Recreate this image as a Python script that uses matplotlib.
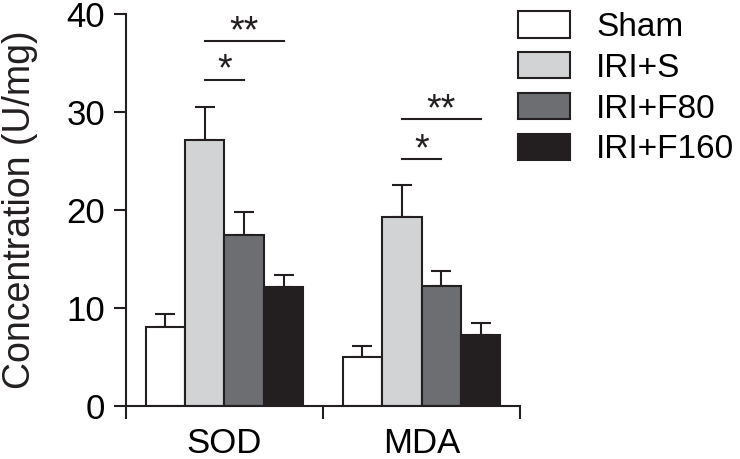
import numpy as np
import matplotlib
matplotlib.use('Agg')
import matplotlib.pyplot as plt

plt.rcParams['font.family'] = ['Liberation Sans', 'DejaVu Sans']

groups = ['SOD', 'MDA']
series = ['Sham', 'IRI+S', 'IRI+F80', 'IRI+F160']
means = {
    'Sham': [8.1, 5.0],
    'IRI+S': [27.1, 19.3],
    'IRI+F80': [17.4, 12.2],
    'IRI+F160': [12.1, 7.2],
}
errs = {
    'Sham': [1.3, 1.1],
    'IRI+S': [3.4, 3.2],
    'IRI+F80': [2.4, 1.6],
    'IRI+F160': [1.3, 1.3],
}
colors = ['#ffffff', '#d1d3d4', '#6d6e71', '#231f20']
yticks = [0, 10, 20, 30, 40]

# significance marks: (group, from series, to series, y, label)
sig = [
    (0, 1, 2, 33.3, '*'),
    (0, 1, 3, 37.2, '**'),
    (1, 1, 2, 25.2, '*'),
    (1, 1, 3, 29.3, '**'),
]

fig = plt.figure(figsize=(7.4, 4.59), dpi=100)
ax = fig.add_axes([0.170, 0.1155, 0.533, 0.854])

w = 0.2
centers = np.arange(len(groups)) + 0.5
offs = (np.arange(len(series)) - 1.5) * w

for i, s in enumerate(series):
    x = centers + offs[i]
    ax.bar(x, means[s], width=w, color=colors[i], edgecolor='#231f20',
           linewidth=1.5, label=s, zorder=2)
    ax.errorbar(x, means[s], yerr=[np.zeros(len(groups)), errs[s]], fmt='none',
                ecolor='#231f20', elinewidth=1.5, capsize=7, capthick=1.5, zorder=1)

for g, a, b, y, lab in sig:
    x1 = centers[g] + offs[a]
    x2 = centers[g] + offs[b]
    ax.plot([x1, x2], [y, y], color='#231f20', lw=1.5, clip_on=False)
    ax.text((x1 + x2) / 2, y - 0.1, lab, ha='center', va='baseline', fontsize=27,
            color='#231f20')

ax.set_xlim(0, 2)
ax.set_ylim(0, 40)
ax.set_yticks(yticks)
ax.set_xticks([0, 1, 2])
ax.set_xticklabels([])
ax.set_xticks(centers, minor=True)
ax.set_xticklabels(groups, minor=True)
ax.tick_params(axis='x', which='minor', length=0, pad=15, labelsize=25)
ax.tick_params(axis='both', which='major', direction='out', length=9, width=1.5,
               color='#231f20', labelsize=25, pad=6)
for sp in ['top', 'right']:
    ax.spines[sp].set_visible(False)
for sp in ['left', 'bottom']:
    ax.spines[sp].set_linewidth(1.5)
    ax.spines[sp].set_color('#231f20')

ax.set_ylabel('Concentration (U/mg)', fontsize=27, labelpad=20, color='#231f20')

ax.legend(loc='upper left', bbox_to_anchor=(0.700, 0.976), bbox_transform=fig.transFigure,
          frameon=False, fontsize=24, handlelength=1.55, handleheight=0.85,
          handletextpad=0.8, labelspacing=0.27, borderaxespad=0, borderpad=0)

fig.savefig('out.png', dpi=100)
